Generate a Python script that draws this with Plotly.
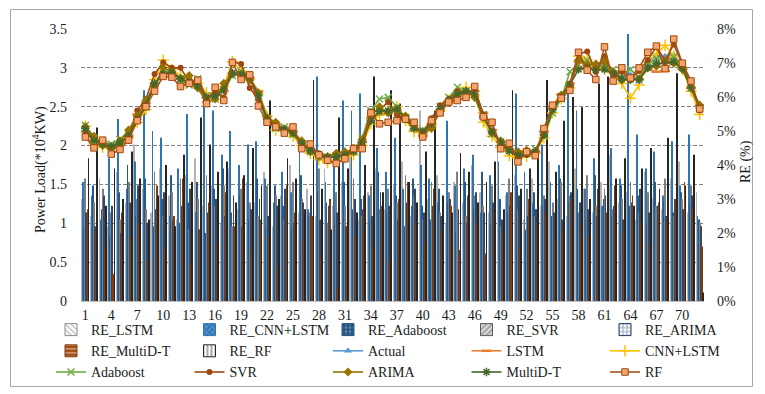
import plotly.graph_objects as go

# ---- data -----------------------------------------------------------------
periods = list(range(1, 73))
tick_labels = list(range(1, 73, 3))

# relative errors (%) per model
re_lstm = [3.0, 2.5, 3.6, 2.2, 3.8, 2.9, 4.6, 3.3, 2.6, 3.9, 3.1, 2.4, 3.7, 4.2, 2.8, 3.4, 2.3, 3.9,
           2.7, 3.5, 2.9, 3.8, 2.2, 3.1, 4.0, 2.6, 3.3, 2.5, 3.9, 2.8, 3.5, 4.3, 2.4, 3.2, 3.9, 2.7,
           3.4, 4.1, 2.5, 5.6, 3.0, 3.7, 2.3, 3.5, 2.9, 4.0, 3.2, 2.6, 4.4, 3.1, 3.7, 2.4, 3.6, 2.8,
           4.1, 3.0, 2.5, 3.9, 3.3, 2.6, 3.5, 4.3, 2.9, 3.2, 2.4, 3.8, 3.0, 2.7, 3.6, 4.1, 2.6, 3.2]
re_cnn_lstm = [3.5, 3.1, 2.4, 4.2, 5.35, 3.3, 4.1, 6.2, 5.0, 4.8, 2.5, 3.9, 5.5, 2.6, 6.0, 5.6, 4.3, 5.0,
               4.0, 4.6, 4.7, 3.6, 2.9, 3.8, 3.2, 4.4, 2.7, 6.6, 3.5, 4.2, 5.9, 5.6, 6.1, 3.1, 4.5, 3.8,
               4.8, 3.3, 2.8, 4.0, 3.6, 2.9, 5.3, 3.4, 3.9, 4.3, 2.6, 3.7, 4.1, 3.2, 6.1, 3.8, 2.9, 4.6,
               3.5, 4.0, 6.1, 5.6, 3.3, 4.2, 2.8, 4.5, 3.6, 7.85, 4.9, 3.9, 4.4, 3.1, 4.7, 3.4, 4.9, 2.5]
re_adaboost = [2.1, 3.4, 2.7, 1.9, 3.2, 4.0, 2.5, 3.6, 2.2, 3.0, 3.7, 2.3, 2.9, 3.5, 2.0, 3.3, 3.9, 2.6,
               3.1, 2.4, 3.6, 2.2, 3.4, 2.8, 2.1, 3.7, 2.5, 3.2, 2.9, 2.3, 3.5, 2.7, 3.0, 2.4, 3.8, 2.6,
               3.1, 2.2, 3.6, 2.8, 2.4, 3.3, 2.9, 2.0, 3.5, 2.7, 3.8, 2.3, 3.0, 2.6, 3.4, 2.1, 3.2, 2.8,
               2.5, 3.6, 2.9, 3.3, 2.4, 3.7, 3.0, 2.5, 3.4, 2.8, 3.1, 2.3, 3.5, 2.9, 2.6, 3.2, 2.8, 2.4]
re_svr = [3.6, 2.9, 3.3, 2.6, 2.4, 3.5, 3.0, 2.7, 3.8, 2.5, 3.2, 3.6, 2.1, 3.0, 3.7, 2.8, 3.4, 2.2,
          3.3, 2.9, 2.5, 3.4, 3.1, 2.4, 3.5, 3.0, 2.6, 3.9, 2.3, 3.2, 2.8, 3.6, 2.5, 3.4, 2.7, 3.3,
          2.9, 3.7, 3.1, 2.4, 3.5, 2.6, 3.2, 3.8, 2.5, 3.1, 2.8, 3.4, 2.2, 3.6, 2.7, 3.3, 2.5, 3.1,
          2.9, 3.5, 3.1, 2.6, 3.7, 2.8, 3.3, 2.7, 3.0, 3.5, 2.6, 3.2, 2.8, 3.6, 2.5, 3.0, 3.4, 2.3]
re_arima = [2.6, 2.2, 3.1, 2.8, 2.0, 2.9, 3.4, 2.3, 2.7, 3.2, 2.4, 2.8, 3.3, 2.1, 2.6, 3.0, 2.5, 3.1,
            2.2, 2.7, 3.0, 2.5, 2.8, 3.3, 2.3, 2.9, 3.1, 2.4, 2.8, 2.6, 2.2, 3.0, 2.7, 2.5, 3.2, 2.8,
            2.4, 2.9, 3.3, 2.6, 2.8, 2.5, 3.0, 2.7, 2.3, 3.2, 2.6, 2.9, 2.4, 2.8, 3.1, 2.5, 2.7, 3.0,
            2.6, 2.4, 3.2, 2.9, 2.7, 2.5, 3.1, 2.8, 2.4, 2.9, 3.3, 2.6, 2.8, 2.5, 3.0, 2.7, 3.1, 2.2]
re_multid_t = [2.7, 2.0, 1.6, 0.8, 2.6, 1.9, 2.3, 1.2, 3.4, 1.5, 2.5, 3.6, 1.1, 2.1, 2.9, 1.7, 3.2, 2.2,
               3.6, 1.4, 2.4, 1.9, 1.0, 3.4, 2.6, 1.8, 2.5, 1.3, 3.0, 0.4, 2.2, 1.9, 3.1, 1.6, 2.8, 1.2,
               3.0, 3.5, 2.3, 1.7, 3.3, 2.1, 2.8, 1.5, 3.1, 2.3, 1.4, 2.7, 2.0, 3.2, 1.6, 3.0, 2.2, 2.6,
               1.8, 2.1, 3.0, 2.2, 1.9, 3.3, 2.6, 3.4, 2.0, 3.1, 2.3, 1.7, 2.9, 2.4, 3.0, 3.5, 2.7, 1.6]
re_rf = [4.2, 5.1, 2.8, 3.9, 3.0, 4.4, 3.6, 2.4, 3.1, 4.0, 2.2, 4.3, 3.5, 5.4, 4.6, 3.8, 4.1, 2.9,
         3.7, 4.5, 3.4, 5.9, 3.0, 4.2, 3.6, 2.7, 6.5, 3.3, 2.1, 5.4, 3.9, 2.6, 4.0, 6.6, 3.2, 6.2,
         5.8, 3.5, 2.9, 4.4, 5.6, 3.1, 2.6, 4.35, 3.8, 2.9, 3.5, 4.1, 2.7, 6.2, 3.3, 3.9, 4.6, 6.5,
         3.8, 5.3, 6.0, 5.7, 3.0, 6.4, 6.6, 3.6, 4.2, 2.8, 3.9, 4.5, 3.3, 4.8, 6.7, 3.4, 4.3, 0.25]

# power load (*10^4 kW): measured and forecast
actual = [2.20, 2.05, 2.02, 1.99, 2.05, 2.11, 2.35, 2.52, 2.82, 2.95, 2.95, 2.89, 2.82, 2.78, 2.63, 2.64, 2.72, 2.95,
          2.93, 2.89, 2.65, 2.33, 2.24, 2.22, 2.16, 2.03, 1.94, 1.87, 1.84, 1.86, 1.88, 1.92, 2.03, 2.33, 2.44, 2.44,
          2.48, 2.35, 2.22, 2.18, 2.29, 2.48, 2.59, 2.67, 2.71, 2.67, 2.37, 2.18, 2.03, 1.92, 1.88, 1.90, 1.92, 2.14,
          2.46, 2.63, 2.78, 3.12, 3.06, 3.06, 3.06, 2.97, 2.87, 2.91, 2.82, 3.06, 3.15, 3.15, 3.17, 3.02, 2.76, 2.50]
lstm = [2.18, 2.07, 2.04, 2.00, 2.03, 2.13, 2.40, 2.55, 2.80, 2.93, 2.92, 2.86, 2.80, 2.76, 2.62, 2.66, 2.70, 2.93,
        2.94, 2.87, 2.70, 2.38, 2.28, 2.23, 2.18, 2.05, 1.96, 1.89, 1.86, 1.86, 1.90, 1.93, 2.05, 2.35, 2.40, 2.42,
        2.45, 2.33, 2.20, 2.12, 2.25, 2.45, 2.55, 2.64, 2.68, 2.70, 2.42, 2.20, 2.05, 1.95, 1.90, 1.92, 1.93, 2.18,
        2.50, 2.66, 2.80, 3.08, 3.02, 3.00, 3.02, 2.95, 2.86, 2.88, 2.85, 2.98, 2.95, 2.96, 3.10, 3.00, 2.74, 2.52]
cnn_lstm = [2.25, 2.02, 1.98, 1.96, 2.00, 2.10, 2.30, 2.46, 2.85, 3.10, 2.98, 2.90, 2.84, 2.80, 2.68, 2.68, 2.76, 3.08,
            2.96, 2.85, 2.66, 2.38, 2.20, 2.20, 2.12, 2.00, 1.90, 1.82, 1.78, 1.80, 1.84, 1.88, 2.00, 2.28, 2.40, 2.46,
            2.50, 2.32, 2.18, 2.16, 2.28, 2.45, 2.58, 2.68, 2.75, 2.64, 2.30, 2.12, 1.98, 1.87, 1.84, 1.86, 1.90, 2.10,
            2.42, 2.60, 2.74, 3.15, 3.10, 3.02, 2.98, 2.94, 2.80, 2.61, 2.78, 3.08, 3.18, 3.29, 3.15, 2.98, 2.70, 2.40]
adaboost = [2.26, 2.10, 2.04, 2.02, 2.08, 2.14, 2.33, 2.50, 2.78, 2.92, 2.96, 2.84, 2.78, 2.86, 2.64, 2.60, 2.70, 2.90,
            2.95, 2.90, 2.62, 2.32, 2.22, 2.24, 2.14, 2.02, 1.92, 1.86, 1.85, 1.86, 1.86, 1.94, 2.10, 2.45, 2.60, 2.62,
            2.50, 2.36, 2.24, 2.20, 2.26, 2.50, 2.62, 2.75, 2.70, 2.66, 2.40, 2.15, 2.05, 1.95, 1.86, 1.90, 1.96, 2.12,
            2.42, 2.60, 2.95, 3.05, 3.10, 3.00, 3.04, 2.98, 2.92, 2.98, 2.88, 3.04, 3.12, 3.10, 3.14, 3.05, 2.78, 2.48]
svr = [2.15, 2.08, 2.05, 1.93, 2.03, 2.12, 2.45, 2.60, 2.92, 3.07, 3.00, 3.00, 2.82, 2.85, 2.60, 2.70, 2.62, 3.08,
       3.05, 2.74, 2.60, 2.35, 2.28, 2.20, 2.20, 2.00, 1.98, 1.90, 1.85, 1.85, 1.87, 1.98, 2.02, 2.44, 2.46, 2.56,
       2.40, 2.33, 2.25, 2.15, 2.35, 2.52, 2.60, 2.70, 2.68, 2.72, 2.40, 2.28, 2.00, 1.95, 1.85, 1.88, 1.90, 2.18,
       2.50, 2.64, 2.80, 3.18, 3.21, 2.95, 3.15, 2.90, 2.95, 2.85, 2.96, 3.10, 3.27, 3.10, 3.30, 3.05, 2.80, 2.45]
arima = [2.24, 2.12, 2.00, 1.96, 2.06, 2.20, 2.38, 2.58, 2.76, 3.00, 2.95, 2.86, 2.90, 2.74, 2.56, 2.60, 2.80, 2.92,
         2.90, 2.84, 2.68, 2.36, 2.30, 2.20, 2.18, 2.06, 1.92, 1.86, 1.86, 1.90, 1.92, 1.95, 2.08, 2.38, 2.50, 2.42,
         2.45, 2.38, 2.26, 2.14, 2.22, 2.44, 2.56, 2.66, 2.70, 2.62, 2.36, 2.16, 2.06, 1.96, 1.92, 1.94, 1.92, 2.14,
         2.48, 2.65, 2.76, 3.10, 3.04, 3.05, 3.08, 2.94, 2.84, 2.85, 2.86, 3.00, 3.02, 3.08, 3.06, 2.98, 2.76, 2.52]
multid_t = [2.22, 2.06, 2.02, 1.99, 2.04, 2.12, 2.34, 2.52, 2.80, 2.92, 2.94, 2.86, 2.81, 2.77, 2.62, 2.64, 2.72, 2.93,
            2.92, 2.88, 2.64, 2.34, 2.24, 2.21, 2.16, 2.03, 1.94, 1.88, 1.85, 1.86, 1.88, 1.92, 2.04, 2.32, 2.44, 2.45,
            2.47, 2.35, 2.22, 2.18, 2.28, 2.47, 2.58, 2.66, 2.70, 2.66, 2.38, 2.18, 2.04, 1.93, 1.88, 1.90, 1.92, 2.14,
            2.46, 2.62, 2.78, 2.98, 3.00, 2.97, 2.98, 2.93, 2.86, 2.85, 2.85, 3.00, 3.06, 3.06, 3.08, 3.00, 2.74, 2.48]
rf = [2.11, 1.97, 2.07, 1.89, 1.95, 2.07, 2.32, 2.50, 2.70, 2.89, 2.88, 2.76, 2.80, 2.84, 2.54, 2.75, 2.58, 3.07,
      2.85, 2.91, 2.51, 2.30, 2.24, 2.16, 2.24, 1.96, 2.02, 1.88, 1.81, 1.77, 1.83, 1.96, 1.96, 2.42, 2.28, 2.30,
      2.32, 2.34, 2.30, 2.11, 2.32, 2.42, 2.56, 2.58, 2.62, 2.76, 2.37, 2.30, 1.96, 2.03, 1.79, 1.92, 1.87, 2.22,
      2.52, 2.61, 2.71, 3.20, 2.97, 2.85, 3.27, 2.83, 3.00, 2.87, 3.00, 3.20, 3.28, 2.99, 3.37, 3.06, 2.83, 2.47]

# ---- styling --------------------------------------------------------------
FONT = "Liberation Serif"
W, H = 765, 394
L, R, T, B = 81, 61, 29, 93
PW, PH = W - L - R, H - T - B


def px_x(px):
    return (px - L) / PW


def px_y(py):
    return (H - B - py) / PH


# (name, values, bar colour, legend pattern shape, pattern fg, pattern bg, outline)
bar_series = [
    ("RE_LSTM", re_lstm, "#b4b4b4", "\\", "#8c8c8c", "#ffffff", "#8c8c8c"),
    ("RE_CNN+LSTM", re_cnn_lstm, "#2e75b6", "x", "#9dc3e6", "#2e75b6", "#2e75b6"),
    ("RE_Adaboost", re_adaboost, "#24598a", ".", "#9dc3e6", "#1f4e79", "#1f4e79"),
    ("RE_SVR", re_svr, "#7f7f7f", "/", "#595959", "#d9d9d9", "#595959"),
    ("RE_ARIMA", re_arima, "#3a4660", "+", "#203864", "#ffffff", "#203864"),
    ("RE_MultiD-T", re_multid_t, "#843c0c", "-", "#ffffff", "#9e480e", "#843c0c"),
    ("RE_RF", re_rf, "#262626", "|", "#262626", "#ffffff", "#262626"),
]

# (name, values, line colour, marker dict)
line_series = [
    ("Actual", actual, "#5b9bd5", dict(symbol="triangle-up", size=7, color="#5b9bd5")),
    ("LSTM", lstm, "#ed7d31", dict(symbol="line-ew", size=7, color="#ed7d31",
                                   line=dict(width=2.5, color="#ed7d31"))),
    ("CNN+LSTM", cnn_lstm, "#ffc000", dict(symbol="cross-thin", size=8, color="#ffc000",
                                           line=dict(width=1.5, color="#ffc000"))),
    ("Adaboost", adaboost, "#70ad47", dict(symbol="x-thin", size=7, color="#70ad47",
                                           line=dict(width=1.5, color="#70ad47"))),
    ("SVR", svr, "#9e480e", dict(symbol="circle", size=6, color="#9e480e")),
    ("ARIMA", arima, "#997300", dict(symbol="diamond", size=7, color="#997300")),
    ("MultiD-T", multid_t, "#43682b", dict(symbol="asterisk", size=7, color="#43682b",
                                           line=dict(width=1.5, color="#43682b"))),
    ("RF", rf, "#a5521a", dict(symbol="square", size=6.5, color="#f4a46c",
                               line=dict(width=1, color="#9e480e"))),
]

fig = go.Figure()

# legend swatches for the error bars (patterned, on a hidden subplot)
for name, vals, col, shape, fg, bg, outline in bar_series:
    fig.add_trace(go.Bar(
        x=[None], y=[None], name=name, xaxis="x2", yaxis="y3",
        marker=dict(color=bg, line=dict(color=outline, width=1),
                    pattern=dict(shape=shape, fgcolor=fg, bgcolor=bg,
                                 fillmode="overlay", size=5, solidity=0.4)),
        showlegend=True, hoverinfo="skip",
    ))

# error bars on the RE axis
for name, vals, col, shape, fg, bg, outline in bar_series:
    fig.add_trace(go.Bar(
        x=periods, y=vals, name=name, xaxis="x", yaxis="y",
        marker=dict(color=col, line=dict(width=0)),
        showlegend=False,
    ))

# load curves on the power-load axis
for name, vals, col, mk in line_series:
    fig.add_trace(go.Scatter(
        x=periods, y=vals, name=name, mode="lines+markers", xaxis="x", yaxis="y2",
        line=dict(color=col, width=1.6), marker=mk,
    ))

tick_font = dict(family=FONT, size=14, color="#1a1a1a")

fig.update_layout(
    width=W, height=H,
    margin=dict(l=L, r=R, t=T, b=B, pad=0, autoexpand=False),
    paper_bgcolor="white", plot_bgcolor="white",
    barmode="group", bargap=0.15, bargroupgap=0.18,
    font=dict(family=FONT, size=14, color="#1a1a1a"),
    xaxis=dict(
        range=[0.5, 72.5], tickmode="array", tickvals=tick_labels,
        ticktext=[str(v) for v in tick_labels], tickfont=tick_font,
        showgrid=False, zeroline=False, showline=True, linecolor="#bfbfbf",
        linewidth=1, ticks="", ticklabelstandoff=1,
    ),
    xaxis2=dict(overlaying="x", visible=False, range=[0, 1]),
    yaxis=dict(
        side="right", range=[0, 8], tickmode="array", tickvals=list(range(0, 9)),
        ticktext=[f"{v}%" for v in range(0, 9)], tickfont=tick_font,
        showgrid=False, zeroline=False, showline=False, ticks="",
        ticklabelstandoff=12,
    ),
    yaxis2=dict(
        overlaying="y", side="left", range=[0, 3.5], dtick=0.5, tick0=0,
        tickfont=tick_font, showgrid=True, gridcolor="#808080", gridwidth=1,
        griddash="4px,2px", zeroline=False, showline=False, ticks="",
        ticklabelstandoff=13,
    ),
    yaxis3=dict(overlaying="y", visible=False, range=[0, 1]),
    legend=dict(
        orientation="h", xref="paper", yref="paper",
        x=px_x(51), y=px_y(314), xanchor="left", yanchor="top",
        entrywidth=93.5, entrywidthmode="pixels", itemwidth=30,
        font=dict(family=FONT, size=14, color="#1a1a1a"),
        bgcolor="rgba(0,0,0,0)", borderwidth=0, tracegroupgap=0,
        traceorder="normal",
    ),
    annotations=[
        dict(text="Power Load(*10<sup>4</sup>KW)", textangle=-90,
             xref="paper", yref="paper", x=px_x(40), y=px_y(170),
             xanchor="center", yanchor="middle", showarrow=False,
             font=dict(family=FONT, size=14, color="#1a1a1a")),
        dict(text="RE (%)", textangle=-90,
             xref="paper", yref="paper", x=px_x(746), y=px_y(162),
             xanchor="center", yanchor="middle", showarrow=False,
             font=dict(family=FONT, size=14, color="#1a1a1a")),
    ],
    shapes=[
        dict(type="rect", xref="paper", yref="paper",
             x0=px_x(10.5), x1=px_x(752.5), y0=px_y(386.5), y1=px_y(9.5),
             line=dict(color="#a6a6a6", width=1), fillcolor="rgba(0,0,0,0)",
             layer="below"),
    ],
)

fig.write_html("out.html")
